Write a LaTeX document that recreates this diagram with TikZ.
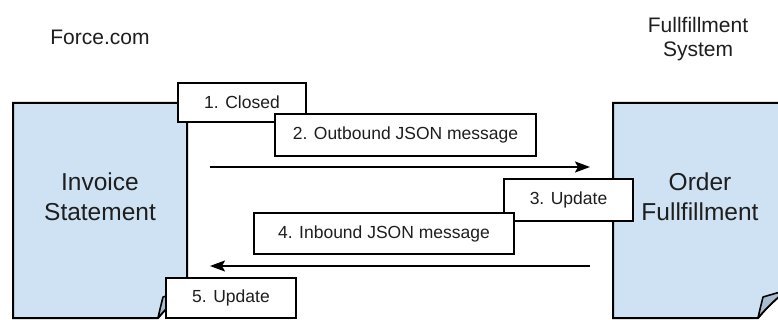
\documentclass[tikz,border=0pt]{standalone}
\usepackage{fontspec}
\setmainfont{Liberation Sans}
\usetikzlibrary{arrows.meta}

\definecolor{docblue}{HTML}{CFE2F3}
\definecolor{foldblue}{HTML}{A9BCD0}
\definecolor{ink}{HTML}{1E1E1E}

\tikzset{
  docpage/.style={draw=black, fill=docblue, line width=2pt, line join=miter},
  docfold/.style={draw=black, fill=foldblue, line width=1.6pt, line join=round},
  msgbox/.style={draw=black, fill=white, line width=2pt, inner sep=0pt,
    text=ink, font=\fontsize{17.5}{21}\selectfont},
  doclabel/.style={text=ink, align=center, inner sep=0pt,
    font=\fontsize{24.5}{30}\selectfont},
  syslabel/.style={text=ink, align=center, inner sep=0pt,
    font=\fontsize{21}{23.5}\selectfont},
  flow/.style={line width=2pt, -{Stealth[length=15pt,width=11pt,inset=3pt]}}
}

% document page with a folded bottom-right corner
\newcommand{\docshape}[4]{%
  \path[docpage] (#1,#2) -- (#3,#2) -- (#3,#4-28)
    .. controls (#3-9,#4-21) and (#3-20,#4-11) .. (#3-29,#4) -- (#1,#4) -- cycle;
  \path[docfold] (#3-29,#4) .. controls (#3-27,#4-9) .. (#3-24,#4-21)
    -- (#3,#4-28) .. controls (#3-9,#4-21) and (#3-20,#4-11) .. (#3-29,#4) -- cycle;
}

\begin{document}
\begin{tikzpicture}[x=1pt,y=-1pt]
  \useasboundingbox (0,0) rectangle (778,320);
  \clip (0,0) rectangle (778,320);
  \fill[white] (0,0) rectangle (778,320);

  % system headers
  \node[syslabel] (forcecom) at (100,37) {Force.com};
  \node[syslabel] (fulsys) at (698,39) {Fullfillment\\System};

  % the two documents
  \docshape{13}{103}{187}{318}
  \docshape{613}{103}{787}{318}
  \node[doclabel] (invoice) at (100,197) {Invoice\\Statement};
  \node[doclabel] (order) at (700,197) {Order\\Fullfillment};

  % message flow
  \coordinate (outStart) at (210,167);
  \coordinate (outEnd) at (590,167);
  \coordinate (inStart) at (590,266);
  \coordinate (inEnd) at (210,266);
  \draw[flow] (outStart) -- (outEnd);
  \draw[flow] (inStart) -- (inEnd);

  % step labels
  \node[msgbox, minimum width=128pt, minimum height=39pt] (closed) at (242,102.5) {1. Closed};
  \node[msgbox, minimum width=261pt, minimum height=42pt] (outbound) at (405.5,135) {2. Outbound JSON message};
  \node[msgbox, minimum width=129pt, minimum height=42pt] (upd3) at (568.5,200) {3. Update};
  \node[msgbox, minimum width=260pt, minimum height=41pt] (inbound) at (384,233.5) {4. Inbound JSON message};
  \node[msgbox, minimum width=130pt, minimum height=40pt] (upd5) at (231,298) {5. Update};
\end{tikzpicture}
\end{document}
